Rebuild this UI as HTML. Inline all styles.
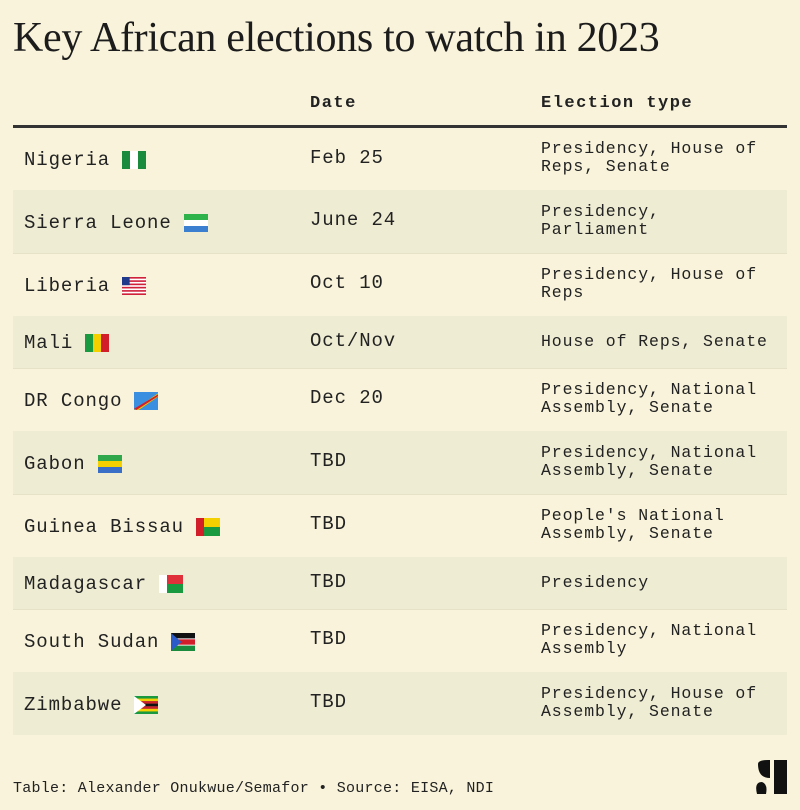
<!DOCTYPE html>
<html><head><meta charset="utf-8"><style>
body{margin:0;width:800px;height:810px;background:#f8f3da;position:relative;font-family:"Liberation Mono",monospace;color:#222;overflow:hidden}
.a{position:absolute}
h1{position:absolute;left:13px;top:14px;margin:0;font-family:"Liberation Serif",serif;font-weight:normal;font-size:42px;color:#1c1c1c;letter-spacing:-0.3px}
.row{position:absolute;left:13px;width:774px;border-bottom:1px solid #e6e2c8}
.sh{background:#eeecd3}
.n{position:absolute;left:11px;font-size:19px;letter-spacing:0.9px;display:flex;align-items:center}
.d{position:absolute;left:297px;font-size:19px;letter-spacing:0.9px}
.e{position:absolute;left:528px;font-size:16.5px;letter-spacing:0.9px;line-height:18px}
.f{display:inline-block;width:24px;height:18px;margin-left:12px}
</style></head><body>
<h1>Key African elections to watch in 2023</h1>
<div class="a" style="left:310px;top:94px;font-size:17px;font-weight:bold;letter-spacing:1.5px">Date</div>
<div class="a" style="left:541px;top:94px;font-size:17px;font-weight:bold;letter-spacing:1.5px">Election type</div>
<div class="a" style="left:13px;top:125px;width:774px;height:3px;background:#333"></div>

<div class="row" style="top:128px;height:62px"><div class="n" style="top:21px">Nigeria<svg class="f" preserveAspectRatio="none" viewBox="0 0 3 2"><rect width="3" height="2" fill="#1a8a3c"/><rect x="1" width="1" height="2" fill="#fff"/></svg></div><div class="d" style="top:19px">Feb 25</div><div class="e" style="top:12px">Presidency, House of<br>Reps, Senate</div></div>
<div class="row sh" style="top:190px;height:63px"><div class="n" style="top:22px">Sierra Leone<svg class="f" preserveAspectRatio="none" viewBox="0 0 3 3"><rect width="3" height="1" fill="#2eb24a"/><rect y="1" width="3" height="1" fill="#fff"/><rect y="2" width="3" height="1" fill="#3a7fd0"/></svg></div><div class="d" style="top:19px">June 24</div><div class="e" style="top:13px">Presidency,<br>Parliament</div></div>
<div class="row" style="top:253px;height:63px"><div class="n" style="top:22px">Liberia<svg class="f" preserveAspectRatio="none" viewBox="0 0 22 11"><rect width="22" height="11" fill="#fff"/><g fill="#d0213a"><rect width="22" height="1"/><rect y="2" width="22" height="1"/><rect y="4" width="22" height="1"/><rect y="6" width="22" height="1"/><rect y="8" width="22" height="1"/><rect y="10" width="22" height="1"/></g><rect width="7" height="5" fill="#1f3a8a"/></svg></div><div class="d" style="top:19px">Oct 10</div><div class="e" style="top:13px">Presidency, House of<br>Reps</div></div>
<div class="row sh" style="top:316px;height:52px"><div class="n" style="top:16px">Mali<svg class="f" preserveAspectRatio="none" viewBox="0 0 3 2"><rect width="1" height="2" fill="#1a9a40"/><rect x="1" width="1" height="2" fill="#f5d000"/><rect x="2" width="1" height="2" fill="#d21e2b"/></svg></div><div class="d" style="top:14px">Oct/Nov</div><div class="e" style="top:17px">House of Reps, Senate</div></div>
<div class="row" style="top:368px;height:63px"><div class="n" style="top:22px">DR Congo<svg class="f" preserveAspectRatio="none" viewBox="0 0 4 3"><rect width="4" height="3" fill="#3b8fe0"/><path d="M0 3 L4 0.2 L4 0.8 L0.8 3Z" fill="#e8c400"/><path d="M0 2.8 L4 0.4 L4 0.7 L0.4 3Z" fill="#d21e2b"/></svg></div><div class="d" style="top:19px">Dec 20</div><div class="e" style="top:13px">Presidency, National<br>Assembly, Senate</div></div>
<div class="row sh" style="top:431px;height:63px"><div class="n" style="top:22px">Gabon<svg class="f" preserveAspectRatio="none" viewBox="0 0 3 3"><rect width="3" height="1" fill="#2ea84a"/><rect y="1" width="3" height="1" fill="#f5d000"/><rect y="2" width="3" height="1" fill="#3a6fc8"/></svg></div><div class="d" style="top:19px">TBD</div><div class="e" style="top:13px">Presidency, National<br>Assembly, Senate</div></div>
<div class="row" style="top:494px;height:63px"><div class="n" style="top:22px">Guinea Bissau<svg class="f" preserveAspectRatio="none" viewBox="0 0 3 2"><rect width="3" height="1" fill="#f5d000"/><rect y="1" width="3" height="1" fill="#1a9a40"/><rect width="1" height="2" fill="#d21e2b"/></svg></div><div class="d" style="top:19px">TBD</div><div class="e" style="top:13px">People's National<br>Assembly, Senate</div></div>
<div class="row sh" style="top:557px;height:52px"><div class="n" style="top:16px">Madagascar<svg class="f" preserveAspectRatio="none" viewBox="0 0 3 2"><rect width="3" height="1" fill="#e0303a"/><rect y="1" width="3" height="1" fill="#1a9a40"/><rect width="1" height="2" fill="#fff"/></svg></div><div class="d" style="top:14px">TBD</div><div class="e" style="top:17px">Presidency</div></div>
<div class="row" style="top:609px;height:63px"><div class="n" style="top:22px">South Sudan<svg class="f" preserveAspectRatio="none" viewBox="0 0 3 2"><rect width="3" height="0.7" fill="#111"/><rect y="0.6" width="3" height="0.8" fill="#fff"/><rect y="0.7" width="3" height="0.6" fill="#d21e2b"/><rect y="1.4" width="3" height="0.6" fill="#1a8a3c"/><path d="M0 0 L1.3 1 L0 2Z" fill="#2a5bc8"/></svg></div><div class="d" style="top:19px">TBD</div><div class="e" style="top:13px">Presidency, National<br>Assembly</div></div>
<div class="row sh" style="top:672px;height:63px;border:none"><div class="n" style="top:22px">Zimbabwe<svg class="f" preserveAspectRatio="none" viewBox="0 0 7 7"><rect width="7" height="7" fill="#1a9a40"/><rect y="1" width="7" height="1" fill="#f5d000"/><rect y="2" width="7" height="1" fill="#d21e2b"/><rect y="3" width="7" height="1" fill="#111"/><rect y="4" width="7" height="1" fill="#d21e2b"/><rect y="5" width="7" height="1" fill="#f5d000"/><path d="M0 0 L3.5 3.5 L0 7Z" fill="#fff"/></svg></div><div class="d" style="top:19px">TBD</div><div class="e" style="top:13px">Presidency, House of<br>Assembly, Senate</div></div>

<div class="a" style="left:13px;top:780px;font-size:15px;letter-spacing:0.25px">Table: Alexander Onukwue/Semafor • Source: EISA, NDI</div>
<svg class="a" style="left:754px;top:760px" width="34" height="34" viewBox="0 0 34 34"><path d="M4 4 Q4 0 14 0 L16 0 L16 18 Q4 18 4 4Z" fill="#111"/><rect x="20" y="0" width="13" height="34" fill="#111"/><path d="M3 34 Q0 22 8 22 Q14 24 12 34Z" fill="#111"/></svg>
</body></html>
